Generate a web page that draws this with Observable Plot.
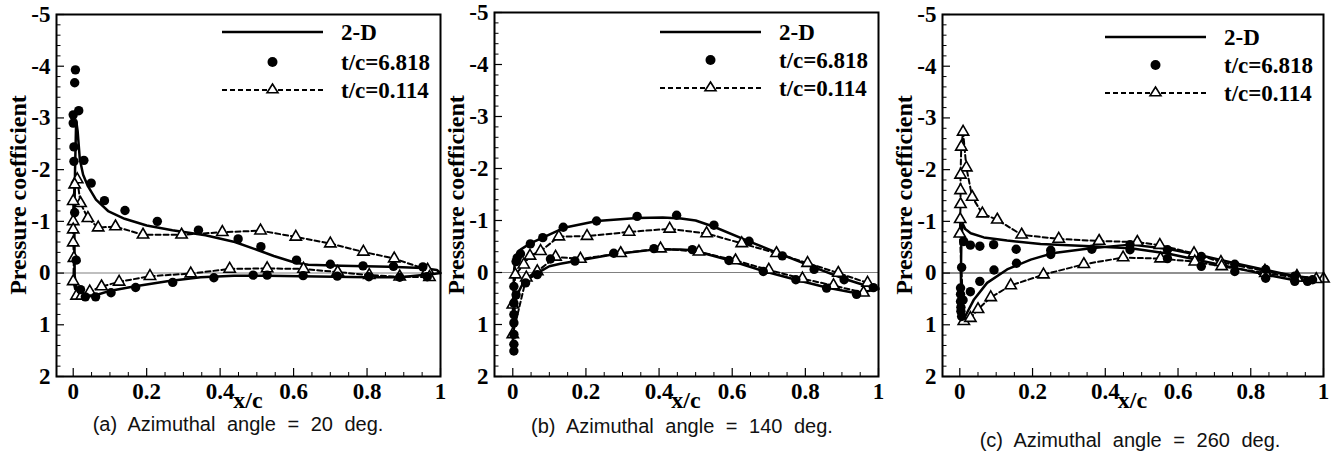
<!DOCTYPE html>
<html>
<head>
<meta charset="utf-8">
<script src="https://cdn.jsdelivr.net/npm/d3@7"></script>
<script src="https://cdn.jsdelivr.net/npm/@observablehq/plot@0.6"></script>
<style>
  body { margin: 0; background: #fff; }
  #root { position: relative; width: 1340px; height: 453px; overflow: hidden; background: #fff; }
  .panel { position: absolute; top: 0; height: 453px; }
  .panel svg { position: absolute; left: 0; top: 0; }
  .panel svg text { font-size: 23px !important; font-weight: bold !important; font-family: "Liberation Serif", "Times New Roman", serif !important; }
  .serif { position: absolute; font-family: "Liberation Serif", "Times New Roman", serif; font-weight: bold; color: #000; white-space: nowrap; line-height: 1; }
  .ylab { font-size: 24px; transform: translate(-50%, -50%) rotate(-90deg); }
  .xlab { font-size: 24px; transform: translate(-50%, -50%); }
  .legtext { font-size: 23px; transform: translateY(-50%); }
  .cap { position: absolute; font-family: "Liberation Sans", Arial, sans-serif; font-size: 20px; word-spacing: 6px; white-space: nowrap; line-height: 1; transform: translate(-50%, -50%); color: #111; }
  .sw { position: absolute; overflow: visible; }
</style>
</head>
<body>
<div id="root"></div>
<script>
// ---------- tick values and labels ----------
const xTicks = [0, 0.2, 0.4, 0.6, 0.8, 1];
const yTicks = [-5, -4, -3, -2, -1, 0, 1, 2];
const xLabel = "x/c";
const yLabel = "Pressure coefficient";
const legendLabels = ["2-D", "t/c=6.818", "t/c=0.114"];
const captions = [
  "(a) Azimuthal angle = 20 deg.",
  "(b) Azimuthal angle = 140 deg.",
  "(c) Azimuthal angle = 260 deg."
];

// ---------- (a) 20 deg : [x/c, Cp] ----------
const a2D = [
  [1.0, 0.0], [0.98, 0.02], [0.89, 0.08], [0.8, 0.08], [0.71, 0.07], [0.62, 0.06], [0.528, 0.05],
  [0.438, 0.05], [0.347, 0.08], [0.256, 0.16], [0.165, 0.26], [0.102, 0.34], [0.065, 0.42],
  [0.038, 0.46], [0.02, 0.45], [0.009, 0.32], [0.004, 0.05], [0.003, -1.0], [0.005, -2.0],
  [0.008, -2.95], [0.012, -2.75], [0.018, -2.2], [0.027, -1.9], [0.04, -1.68], [0.062, -1.42],
  [0.095, -1.2], [0.14, -1.05], [0.2, -0.92], [0.27, -0.83], [0.36, -0.73], [0.44, -0.6],
  [0.5, -0.45], [0.546, -0.33], [0.605, -0.2], [0.64, -0.16], [0.73, -0.14], [0.86, -0.12],
  [0.95, -0.1], [0.99, -0.06], [1.0, 0.0]
];
const aT6818 = [
  [0.006, -3.93], [0.004, -3.68], [0.0, -3.06], [0.015, -3.14], [0.0, -2.9], [0.002, -2.44],
  [0.002, -2.16], [0.029, -2.18], [0.049, -1.74], [0.085, -1.4], [0.141, -1.21], [0.229, -1.0],
  [0.341, -0.83], [0.449, -0.66], [0.511, -0.51], [0.608, -0.25], [0.7, -0.17], [0.789, -0.14],
  [0.872, -0.13], [0.952, -0.12], [0.004, -1.17], [0.008, -0.25], [0.02, 0.32], [0.033, 0.46],
  [0.061, 0.46], [0.103, 0.38], [0.17, 0.28], [0.271, 0.18], [0.383, 0.09], [0.49, 0.04],
  [0.528, 0.04], [0.626, 0.05], [0.719, 0.06], [0.805, 0.07], [0.889, 0.08], [0.964, 0.07]
];
const aT0114 = [
  [0.965, -0.06], [0.874, -0.28], [0.79, -0.41], [0.7, -0.57], [0.606, -0.7], [0.51, -0.82],
  [0.406, -0.79], [0.295, -0.74], [0.19, -0.74], [0.115, -0.9], [0.068, -0.88], [0.04, -1.06],
  [0.02, -1.35], [0.011, -1.81], [0.004, -1.71], [0.0, -1.39], [0.0, -1.0], [0.0, -0.84],
  [0.0, -0.59], [0.002, -0.29], [0.0, 0.16], [0.009, 0.44], [0.023, 0.44], [0.045, 0.36],
  [0.077, 0.26], [0.125, 0.17], [0.209, 0.06], [0.32, 0.01], [0.426, -0.08], [0.528, -0.09],
  [0.627, -0.08], [0.72, -0.02], [0.806, 0.04], [0.889, 0.07], [0.97, 0.08]
];

// ---------- (b) 140 deg ----------
const b2D = [
  [1.0, 0.3], [0.96, 0.24], [0.906, 0.12], [0.824, -0.1], [0.737, -0.34], [0.646, -0.6],
  [0.55, -0.88], [0.5, -1.0], [0.46, -1.04], [0.41, -1.06], [0.34, -1.05], [0.23, -0.99],
  [0.14, -0.86], [0.085, -0.68], [0.048, -0.56], [0.021, -0.44], [0.007, -0.28], [0.003, 0.0],
  [0.002, 0.6], [0.001, 1.2], [0.0, 1.5], [0.001, 1.0], [0.006, 0.6], [0.012, 0.43],
  [0.026, 0.23], [0.044, 0.12], [0.057, 0.06], [0.08, -0.04], [0.1, -0.12], [0.13, -0.17],
  [0.18, -0.23], [0.276, -0.35], [0.386, -0.44], [0.459, -0.44], [0.49, -0.43], [0.59, -0.24],
  [0.685, -0.03], [0.774, 0.14], [0.858, 0.29], [0.94, 0.4], [1.0, 0.32]
];
const bT6818 = [
  [0.138, -0.87], [0.229, -0.99], [0.34, -1.08], [0.448, -1.1], [0.55, -0.91], [0.646, -0.6],
  [0.737, -0.32], [0.824, -0.06], [0.906, 0.14], [0.986, 0.29], [0.082, -0.67], [0.048, -0.55],
  [0.021, -0.36], [0.012, -0.28], [0.009, -0.21], [0.003, 0.27], [0.003, 0.59], [0.003, 0.81],
  [0.003, 0.97], [0.003, 1.19], [0.003, 1.38], [0.003, 1.51], [0.009, 0.43], [0.035, 0.2],
  [0.067, 0.04], [0.103, -0.26], [0.17, -0.22], [0.276, -0.37], [0.386, -0.46], [0.491, -0.44],
  [0.591, -0.23], [0.685, -0.02], [0.774, 0.14], [0.858, 0.3], [0.94, 0.42]
];
const bT0114 = [
  [0.97, 0.2], [0.89, 0.01], [0.806, -0.18], [0.721, -0.37], [0.626, -0.56], [0.53, -0.75],
  [0.429, -0.84], [0.318, -0.78], [0.203, -0.7], [0.126, -0.69], [0.076, -0.41], [0.047, -0.32],
  [0.03, -0.15], [0.007, 0.04], [0.0, 0.62], [0.0, 1.19], [0.037, 0.1], [0.067, -0.02],
  [0.117, -0.3], [0.185, -0.26], [0.295, -0.37], [0.404, -0.46], [0.509, -0.4], [0.609, -0.23],
  [0.7, -0.05], [0.792, 0.12], [0.877, 0.25], [0.959, 0.39]
];

// ---------- (c) 260 deg ----------
const c2D = [
  [1.0, 0.13], [0.97, 0.16], [0.921, 0.14], [0.841, 0.03], [0.756, -0.1], [0.664, -0.24],
  [0.571, -0.38], [0.47, -0.48], [0.36, -0.52], [0.222, -0.56], [0.13, -0.63], [0.066, -0.69],
  [0.03, -0.77], [0.015, -0.85], [0.007, -0.97], [0.004, -0.5], [0.003, 0.0], [0.004, 0.5],
  [0.006, 0.9], [0.016, 0.82], [0.039, 0.51], [0.075, 0.19], [0.13, -0.07], [0.195, -0.26],
  [0.259, -0.39], [0.36, -0.48], [0.47, -0.55], [0.571, -0.47], [0.664, -0.34], [0.756, -0.19],
  [0.841, -0.06], [0.921, 0.06], [0.97, 0.1], [1.0, 0.13]
];
const cT6818 = [
  [0.011, -0.61], [0.029, -0.54], [0.055, -0.52], [0.093, -0.55], [0.155, -0.46], [0.25, -0.44],
  [0.25, -0.36], [0.363, -0.46], [0.468, -0.55], [0.468, -0.45], [0.571, -0.45], [0.571, -0.28],
  [0.664, -0.32], [0.664, -0.13], [0.756, -0.17], [0.756, -0.03], [0.841, -0.07], [0.841, 0.1],
  [0.921, 0.06], [0.921, 0.16], [0.956, 0.16], [0.97, 0.13], [0.005, -0.11], [0.002, 0.29],
  [0.002, 0.41], [0.002, 0.55], [0.003, 0.66], [0.003, 0.74], [0.005, 0.84], [0.009, 0.52],
  [0.029, 0.36], [0.055, 0.16], [0.094, -0.06], [0.156, -0.19]
];
const cT0114 = [
  [1.0, 0.11], [0.927, 0.06], [0.839, -0.04], [0.718, -0.21], [0.644, -0.38], [0.55, -0.54],
  [0.488, -0.6], [0.383, -0.62], [0.272, -0.66], [0.17, -0.74], [0.103, -1.03], [0.062, -1.15],
  [0.034, -1.47], [0.018, -2.04], [0.009, -2.73], [0.004, -2.44], [0.002, -1.9], [0.002, -1.6],
  [0.002, -1.33], [0.001, -1.04], [0.0, -0.76], [0.011, 0.93], [0.029, 0.87], [0.05, 0.7],
  [0.085, 0.47], [0.14, 0.24], [0.23, 0.03], [0.341, -0.17], [0.449, -0.3], [0.552, -0.28],
  [0.646, -0.22], [0.72, -0.13], [0.84, 0.0], [0.927, 0.09], [0.98, 0.12]
];

// ---------- layout (geometry / style only) ----------
const SERIF = '"Liberation Serif", "Times New Roman", serif';
const panels = [
  { left: 0,   width: 445, ml: 56, mr: 5,  mt: 14, xmin: -0.0455, zero: "#808080",
    line: a2D, dots: aT6818, tris: aT0114, cap: captions[0], capX: 238, capY: 424, legY: [32, 62, 90] },
  { left: 445, width: 445, ml: 49, mr: 12, mt: 12, xmin: -0.050, zero: "#808080",
    line: b2D, dots: bT6818, tris: bT0114, cap: captions[1], capX: 237, capY: 426, legY: [32, 60, 88] },
  { left: 890, width: 450, ml: 52, mr: 17, mt: 14, xmin: -0.0476, zero: "#222",
    line: c2D, dots: cT6818, tris: cT0114, cap: captions[2], capX: 240, capY: 440, legY: [37, 65, 93] }
];

const root = document.getElementById("root");
const H = 410, MB = 34;
const yMinor = d3.range(-50, 21, 2).map(v => v / 10).filter(v => !yTicks.includes(v));
const xMinor = d3.range(0, 21, 1).map(v => v / 20).filter(v => !xTicks.some(t => Math.abs(t - v) < 1e-9));

function drawPanel(p) {
  const div = document.createElement("div");
  div.className = "panel";
  div.style.left = p.left + "px";
  div.style.width = p.width + "px";
  root.appendChild(div);

  const plotW = p.width - p.ml - p.mr;
  const plotH = H - p.mt - MB;
  const kx = (1 - p.xmin) / plotW;   // data units per px
  const ky = 7 / plotH;

  const svg = Plot.plot({
    width: p.width, height: H,
    marginLeft: p.ml, marginRight: p.mr, marginTop: p.mt, marginBottom: MB,
    x: { domain: [p.xmin, 1] },
    y: { domain: [2, -5] },
    style: { fontFamily: SERIF, background: "transparent", overflow: "visible" },
    marks: [
      Plot.ruleY([0], { stroke: p.zero, strokeWidth: 1.1 }),
      Plot.ruleY(yTicks, { y: d => d, x1: () => p.xmin, x2: () => p.xmin + 8 * kx, stroke: "black", strokeWidth: 1.2 }),
      Plot.ruleY(yMinor, { y: d => d, x1: () => p.xmin, x2: () => p.xmin + 4.5 * kx, stroke: "black", strokeWidth: 1 }),
      Plot.ruleX(xTicks, { x: d => d, y1: () => 2, y2: () => 2 - 8 * ky, stroke: "black", strokeWidth: 1.2 }),
      Plot.ruleX(xMinor, { x: d => d, y1: () => 2, y2: () => 2 - 4 * ky, stroke: "black", strokeWidth: 1 }),
      Plot.line(p.line, { x: d => d[0], y: d => d[1], stroke: "black", strokeWidth: 2.5, strokeLinejoin: "round" }),
      Plot.line(p.tris, { x: d => d[0], y: d => d[1], stroke: "black", strokeWidth: 2, strokeDasharray: "5,3" }),
      Plot.dot(p.tris, { x: d => d[0], y: d => d[1], symbol: "triangle", r: 4.2, fill: "white", stroke: "black", strokeWidth: 1.6 }),
      Plot.dot(p.dots, { x: d => d[0], y: d => d[1], r: 4.7, fill: "black", stroke: "none" }),
      Plot.frame({ stroke: "black", strokeWidth: 2 }),
      Plot.axisY({ ticks: yTicks, tickSize: 0, tickPadding: 6, tickFormat: d => String(d), fontSize: 23, fontWeight: "bold", fontFamily: SERIF, label: null }),
      Plot.axisX({ ticks: xTicks, tickSize: 0, tickPadding: 6, tickFormat: d => String(d), fontSize: 23, fontWeight: "bold", fontFamily: SERIF, label: null })
    ]
  });
  div.appendChild(svg);

  const frameRight = p.width - p.mr;
  const plotCx = p.ml + plotW / 2;

  // axis titles
  const yl = document.createElement("div");
  yl.className = "serif ylab";
  yl.textContent = yLabel;
  yl.style.left = (p.ml - 38) + "px";
  yl.style.top = "195px";
  div.appendChild(yl);

  const xl = document.createElement("div");
  xl.className = "serif xlab";
  xl.textContent = xLabel;
  xl.style.left = plotCx + "px";
  xl.style.top = "400px";
  div.appendChild(xl);

  // legend
  const swLeft = frameRight - 218, swW = 101;
  legendLabels.forEach((lab, i) => {
    const cy = p.legY[i];
    const ns = "http://www.w3.org/2000/svg";
    const s = document.createElementNS(ns, "svg");
    s.setAttribute("class", "sw");
    s.setAttribute("width", swW);
    s.setAttribute("height", 20);
    s.style.left = swLeft + "px";
    s.style.top = (cy - 10) + "px";
    if (i === 0) {
      s.innerHTML = `<line x1="0" y1="10" x2="${swW}" y2="10" stroke="black" stroke-width="2.7"/>`;
    } else if (i === 1) {
      s.innerHTML = `<circle cx="${swW / 2}" cy="10" r="5" fill="black"/>`;
    } else {
      s.innerHTML = `<line x1="0" y1="10" x2="${swW}" y2="10" stroke="black" stroke-width="2" stroke-dasharray="5,3"/>` +
        `<polygon points="${swW / 2},4 ${swW / 2 + 5.5},12.8 ${swW / 2 - 5.5},12.8" fill="white" stroke="black" stroke-width="1.6"/>`;
    }
    div.appendChild(s);
    const t = document.createElement("div");
    t.className = "serif legtext";
    t.textContent = lab;
    t.style.left = (frameRight - 99) + "px";
    t.style.top = cy + "px";
    div.appendChild(t);
  });

  // caption
  const c = document.createElement("div");
  c.className = "cap";
  c.textContent = p.cap;
  c.style.left = p.capX + "px";
  c.style.top = p.capY + "px";
  div.appendChild(c);
}

panels.forEach(drawPanel);
</script>
</body>
</html>
